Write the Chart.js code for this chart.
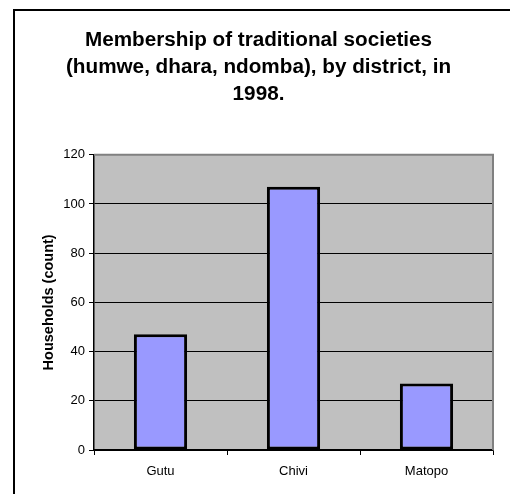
<!DOCTYPE html>
<html>
<head>
<meta charset="utf-8">
<script src="https://cdn.jsdelivr.net/npm/chart.js@4/dist/chart.umd.min.js"></script>
<style>
  html, body { margin: 0; padding: 0; background: #fff; }
  #wrap { position: relative; width: 510px; height: 494px; overflow: hidden; }
  #frame { position: absolute; left: 13px; top: 9px; width: 700px; height: 700px;
           border: 2px solid #000; box-sizing: border-box; pointer-events: none; }
  canvas { position: absolute; left: 0; top: 0; }
</style>
</head>
<body>
<div id="wrap">
  <canvas id="chart" width="510" height="494"></canvas>
  <div id="frame"></div>
</div>
<script>
// Households belonging to traditional societies, per district (1998)
const districts = ['Gutu', 'Chivi', 'Matopo'];
const households = [47, 107, 27];
const titleLines = [
  'Membership of traditional societies',
  '(humwe, dhara, ndomba), by district, in',
  '1998.'
];
const yAxisTitle = 'Households (count)';
const yMin = 0, yMax = 120, yStep = 20;

const FONT = "'Liberation Sans', Arial, Helvetica, sans-serif";

// Grey plot background plus the light frame on the top and right edges
const plotFrame = {
  id: 'plotFrame',
  beforeDraw(chart) {
    const { ctx, chartArea: a } = chart;
    ctx.save();
    ctx.fillStyle = '#c0c0c0';
    ctx.fillRect(a.left, a.top, a.right - a.left, a.bottom - a.top);
    ctx.restore();
  },
  beforeDatasetsDraw(chart) {
    const { ctx, chartArea: a } = chart;
    ctx.save();
    ctx.strokeStyle = '#808080';
    ctx.lineWidth = 2;
    ctx.beginPath();
    ctx.moveTo(a.left, a.top);
    ctx.lineTo(a.right, a.top);
    ctx.lineTo(a.right, a.bottom);
    ctx.stroke();
    ctx.restore();
  }
};

new Chart(document.getElementById('chart'), {
  type: 'bar',
  data: {
    labels: districts,
    datasets: [{
      data: households,
      backgroundColor: '#9999ff',
      borderColor: '#000000',
      borderWidth: 3,
      borderSkipped: false,
      barPercentage: 0.4,
      categoryPercentage: 1.0
    }]
  },
  options: {
    responsive: false,
    animation: false,
    layout: { padding: { left: 24, right: 17, top: 0, bottom: 0 } },
    plugins: {
      legend: { display: false },
      tooltip: { enabled: false },
      title: {
        display: true,
        text: titleLines,
        color: '#000',
        font: { family: FONT, size: 20.7, weight: 'bold', lineHeight: 1.3 },
        padding: { top: 27, bottom: 47 }
      }
    },
    scales: {
      x: {
        offset: true,
        grid: { drawOnChartArea: false, tickLength: 5, color: '#000', lineWidth: 1 },
        border: { color: '#000', width: 1.5 },
        ticks: { color: '#000', font: { family: FONT, size: 13 }, padding: 9, maxRotation: 0 },
        afterFit(scale) { scale.height = 44; }
      },
      y: {
        min: yMin,
        max: yMax,
        ticks: { stepSize: yStep, color: '#000', font: { family: FONT, size: 13 }, padding: 4 },
        grid: { color: '#000', lineWidth: 1, tickLength: 5 },
        border: { color: '#000', width: 1.5 },
        title: {
          display: true,
          text: yAxisTitle,
          color: '#000',
          font: { family: FONT, size: 14.5, weight: 'bold' },
          padding: { top: 16, bottom: 0 }
        },
        afterFit(scale) { scale.width = 70; }
      }
    }
  },
  plugins: [plotFrame]
});
</script>
</body>
</html>
